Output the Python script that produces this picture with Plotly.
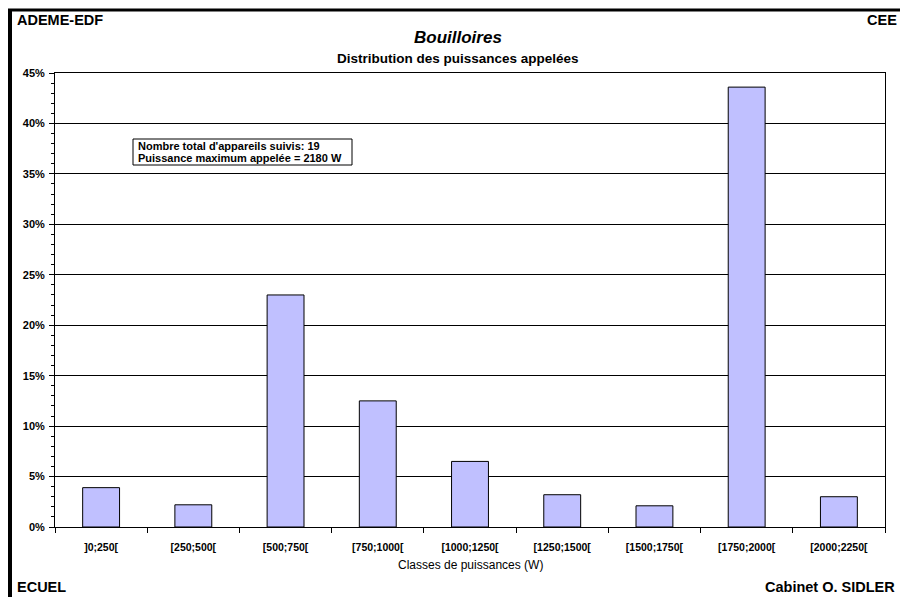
import plotly.graph_objects as go

# Distribution des puissances appelées - bouilloires
classes = [']0;250[', '[250;500[', '[500;750[', '[750;1000[', '[1000;1250[',
           '[1250;1500[', '[1500;1750[', '[1750;2000[', '[2000;2250[']
parts = [3.9, 2.2, 23.0, 12.5, 6.5, 3.2, 2.1, 43.6, 3.0]  # %

y_ticks = [0, 5, 10, 15, 20, 25, 30, 35, 40, 45]
y_labels = [str(v) + '%' for v in y_ticks]

W, H = 900, 597
L, R, T, B = 55, 15, 73, 70
FONT = 'Arial, Liberation Sans, sans-serif'


# pixel -> paper coordinates (for the annotations / frame only)
def px(x):
    return (x - L) / (W - L - R)


def py(y):
    return (H - B - y) / (H - T - B)


fig = go.Figure()
fig.add_trace(go.Bar(x=classes, y=parts,
                     marker=dict(color='#C0C0FF', line=dict(color='black', width=1)),
                     hoverinfo='x+y'))

fig.update_layout(
    width=W, height=H,
    margin=dict(l=L, r=R, t=T, b=B),
    paper_bgcolor='white', plot_bgcolor='white',
    font=dict(family=FONT, color='black'),
    showlegend=False,
    bargap=0.6,
)

fig.update_xaxes(type='category', tickson='boundaries', ticks='outside', ticklen=5,
                 tickcolor='black', showline=True, linecolor='black', linewidth=1,
                 mirror=True, showgrid=False,
                 tickfont=dict(size=10.5, family=FONT, weight='bold'),
                 ticklabelstandoff=10)

fig.update_yaxes(range=[0, 45], tickvals=y_ticks, ticktext=y_labels, ticks='outside',
                 ticklen=5, tickcolor='black', showline=True, linecolor='black',
                 linewidth=1, mirror=True, showgrid=True, gridcolor='black', gridwidth=1,
                 zeroline=False,
                 minor=dict(dtick=1, ticks='outside', ticklen=3, tickcolor='black',
                            showgrid=False),
                 tickfont=dict(size=11, family=FONT, weight='bold'),
                 ticklabelstandoff=2)

# outer frame (thick left and top border)
fig.add_shape(type='line', xref='paper', yref='paper', x0=px(10), x1=px(10),
              y0=py(9), y1=py(H + 5), line=dict(color='black', width=4))
fig.add_shape(type='line', xref='paper', yref='paper', x0=px(8), x1=px(W + 5),
              y0=py(10), y1=py(10), line=dict(color='black', width=3))

# info box
fig.add_shape(type='rect', xref='paper', yref='paper', x0=px(133), x1=px(352),
              y0=py(139), y1=py(165), line=dict(color='black', width=1),
              fillcolor='white')

notes = [
    ('ADEME-EDF', 15, 20, 'left', 14.5, 'bold', 'normal'),
    ('CEE', 899, 20, 'right', 14.5, 'bold', 'normal'),
    ('ECUEL', 15, 587, 'left', 14.5, 'bold', 'normal'),
    ('Cabinet O. SIDLER', 897, 587, 'right', 14.5, 'bold', 'normal'),
    ('Bouilloires', 458, 37, 'center', 17, 'bold', 'italic'),
    ('Distribution des puissances appelées', 458, 58, 'center', 13.5, 'bold', 'normal'),
    ("Nombre total d'appareils suivis: 19", 136, 146, 'left', 11, 'bold', 'normal'),
    ('Puissance maximum appelée = 2180 W', 136, 158, 'left', 11, 'bold', 'normal'),
    ('Classes de puissances (W)', 470, 565, 'center', 12, 'normal', 'normal'),
]
for txt, x, y, anchor, size, weight, style in notes:
    fig.add_annotation(text=txt, xref='paper', yref='paper', x=px(x), y=py(y),
                       xanchor=anchor, yanchor='middle', showarrow=False,
                       font=dict(size=size, family=FONT, weight=weight, style=style,
                                 color='black'))

# drop the default page margin so the figure fills the window
fig.write_html('out.html', config={'displayModeBar': False},
               post_script="document.body.style.margin='0';")
